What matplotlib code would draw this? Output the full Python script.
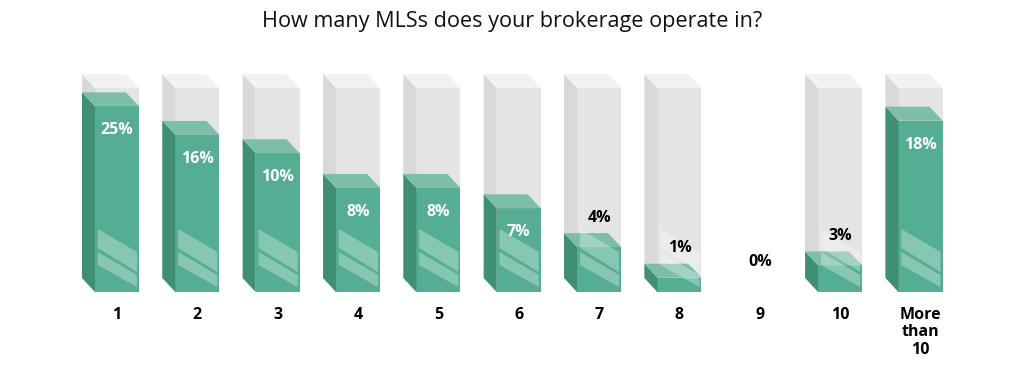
import matplotlib
matplotlib.use("Agg")
import matplotlib.pyplot as plt
from matplotlib.patches import Polygon

# ---- data ----
categories = ["1", "2", "3", "4", "5", "6", "7", "8", "9", "10", "More\nthan\n10"]
percent_labels = [25, 16, 10, 8, 8, 7, 4, 1, 0, 3, 18]
# fill level of each 3D box as drawn in the infographic (percent of box height)
fill_levels = [91, 77, 68, 51, 51, 41, 22, 7, 0, 13, 84]
title = "How many MLSs does your brokerage operate in?"

# ---- style ----
plt.rcParams['font.family'] = ['Open Sans', 'DejaVu Sans']
GREEN_FRONT = "#55ae94"
GREEN_SIDE = "#3f8f74"
GREEN_TOP = "#7cbea9"
GRAY_FRONT = "#e4e4e4"
GRAY_SIDE = "#d9d9d9"
GRAY_TOP = "#f2f2f2"
BOX_H = 100
W = 0.548          # front face width (category units)
DX = 0.162         # depth offset in x
DY = 6.86          # depth offset in y

fig = plt.figure(figsize=(10.24, 3.72), dpi=100)
ax = fig.add_axes([0, 80 / 372, 1, 232 / 372])
x0 = -117 / 80.35
ax.set_xlim(x0, x0 + 1024 / 80.35)
ax.set_ylim(0, 232 / 2.04)
for s in ax.spines.values():
    s.set_visible(False)
ax.set_yticks([])


def box3d(ax, xc, h, front, side, top, z):
    xl, xr = xc - W / 2, xc + W / 2
    ax.bar([xc], [h], width=W, color=front, zorder=z, linewidth=0)
    ax.add_patch(Polygon([(xl, 0), (xl, h), (xl - DX, h + DY), (xl - DX, DY)],
                         closed=True, facecolor=side, edgecolor='none', zorder=z))
    ax.add_patch(Polygon([(xl, h), (xr, h), (xr - DX, h + DY), (xl - DX, h + DY)],
                         closed=True, facecolor=top, edgecolor='none', zorder=z))


xs = list(range(len(categories)))
for i, (lvl, val) in enumerate(zip(fill_levels, percent_labels)):
    xc = xs[i]
    if val > 0:
        box3d(ax, xc, BOX_H, GRAY_FRONT, GRAY_SIDE, GRAY_TOP, 1)
        box3d(ax, xc, lvl, GREEN_FRONT, GREEN_SIDE, GREEN_TOP, 2)
        # decorative stripes
        xl, xr = xc - W / 2, xc + W / 2
        a = xl + 0.035
        b = xr - 0.025
        s1 = [(a, 63 / 2.04), (b, 40 / 2.04), (b, 20 / 2.04), (a, 44 / 2.04)]
        s2 = [(a, 40 / 2.04), (b, 17 / 2.04), (b, 5 / 2.04), (a, 27 / 2.04)]
        for s in (s1, s2):
            ax.add_patch(Polygon(s, closed=True, facecolor='white', alpha=0.3,
                                 edgecolor='none', zorder=3))
    if lvl > 30:
        ax.text(xc, lvl - 11.8, f"{val}%", ha='center', va='center',
                color='white', fontsize=11.5, fontweight='bold', zorder=4)
    else:
        ax.text(xc, lvl + 14.5, f"{val}%", ha='center', va='center',
                color='black', fontsize=11.5, fontweight='bold', zorder=4)

ax.set_xticks(xs)
ax.set_xticklabels(categories, fontsize=11.5, fontweight='bold', linespacing=1.1)
ax.tick_params(axis='x', length=0, pad=11)

fig.text(0.5, 1 - 22 / 372, title, ha='center', va='center', fontsize=15.6,
         color='#111111')

fig.savefig("out.png", dpi=100, facecolor='white')
